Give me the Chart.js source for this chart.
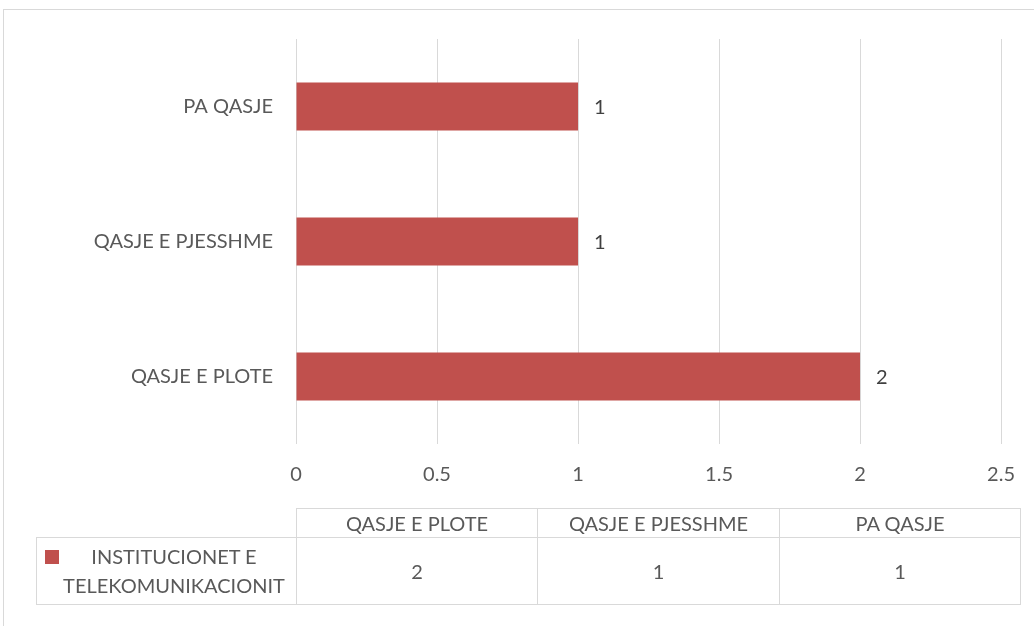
<!DOCTYPE html>
<html><head><meta charset="utf-8">
<script src="https://cdn.jsdelivr.net/npm/chart.js@4"></script>
<style>
html,body{margin:0;padding:0;background:#fff;overflow:hidden;}
#wrap{position:relative;width:1034px;height:626px;overflow:hidden;}
#frame{position:absolute;left:3px;top:9px;width:1100px;height:700px;border:1px solid #d9d9d9;box-sizing:border-box;}
canvas{position:absolute;left:0;top:0;}
.cell{position:absolute;box-sizing:border-box;border:1px solid #d9d9d9;color:#595959;font:20px Lato, sans-serif;display:flex;align-items:center;justify-content:center;text-align:center;}
</style></head>
<body><div id="wrap"><div id="frame"></div><canvas id="c" width="1034" height="626"></canvas><div id="table"></div></div>
<script>
const categories = ['QASJE E PLOTE', 'QASJE E PJESSHME', 'PA QASJE'];
const seriesName = 'INSTITUCIONET E TELEKOMUNIKACIONIT';
const seriesValues = [2, 1, 1];
const xTicks = [0, 0.5, 1, 1.5, 2, 2.5];
const xTickLabels = ['0', '0.5', '1', '1.5', '2', '2.5'];

const barColor = '#C0504D';
const textColor = '#595959';
const gridColor = '#d9d9d9';
const FONT = 'Lato, sans-serif';
const FS = 20;

const barLabels = {
  id: 'barLabels',
  afterDatasetsDraw(chart) {
    const ctx = chart.ctx;
    const meta = chart.getDatasetMeta(0);
    ctx.save();
    ctx.font = FS + 'px ' + FONT;
    ctx.fillStyle = '#404040';
    ctx.textAlign = 'left';
    ctx.textBaseline = 'middle';
    meta.data.forEach((bar, i) => {
      ctx.fillText(String(chart.data.datasets[0].data[i]), bar.x + 16, bar.y + 1);
    });
    ctx.restore();
  }
};

new Chart(document.getElementById('c'), {
  type: 'bar',
  data: {
    labels: categories,
    datasets: [{
      label: seriesName,
      data: seriesValues,
      backgroundColor: barColor,
      borderWidth: 0,
      categoryPercentage: 1,
      barPercentage: 0.356
    }]
  },
  options: {
    indexAxis: 'y',
    responsive: false,
    animation: false,
    devicePixelRatio: 1,
    layout: { padding: { left: 16, right: 28, top: 39, bottom: 132 } },
    plugins: { legend: { display: false }, tooltip: { enabled: false } },
    scales: {
      x: {
        min: 0, max: 2.5,
        afterBuildTicks: s => { s.ticks = xTicks.map(v => ({ value: v })); },
        afterFit: s => { s.height = 50; },
        grid: { color: gridColor, lineWidth: 1, drawTicks: false },
        border: { display: false },
        ticks: {
          color: textColor, font: { family: FONT, size: FS }, padding: 19, maxRotation: 0,
          callback: (v, i) => xTickLabels[i]
        }
      },
      y: {
        reverse: true,
        afterFit: s => { s.width = 280; },
        grid: { display: false, drawTicks: false },
        border: { display: false },
        ticks: { color: textColor, font: { family: FONT, size: FS }, padding: 23 }
      }
    }
  },
  plugins: [barLabels]
});

// data table beneath the chart
(function buildTable() {
  const t = document.getElementById('table');
  const left0 = 296, colW = 241.33, topH = 508, hH = 30, rH = 68;
  function cell(x, y, w, h, extra) {
    const d = document.createElement('div');
    d.className = 'cell';
    d.style.left = x + 'px'; d.style.top = y + 'px';
    d.style.width = w + 'px'; d.style.height = h + 'px';
    if (extra) Object.assign(d.style, extra);
    t.appendChild(d);
    return d;
  }
  categories.forEach((c, i) => {
    const x = Math.round(left0 + i * colW);
    const x2 = Math.round(left0 + (i + 1) * colW);
    cell(x, topH, x2 - x + 1, hH).textContent = c;
    cell(x, topH + hH - 1, x2 - x + 1, rH).textContent = String(seriesValues[i]);
  });
  const lc = cell(36, topH + hH - 1, left0 - 36 + 1, rH, { justifyContent: 'flex-start' });
  const mk = document.createElement('span');
  Object.assign(mk.style, { display: 'inline-block', flex: '0 0 14px', width: '14px', height: '14px', background: barColor, marginLeft: '8px', alignSelf: 'flex-start', marginTop: '12px' });
  lc.appendChild(mk);
  const tx = document.createElement('span');
  Object.assign(tx.style, { width: '230px', marginLeft: '0px', lineHeight: '29px', textAlign: 'center' });
  tx.textContent = seriesName;
  lc.appendChild(tx);
})();
</script>
</body></html>
